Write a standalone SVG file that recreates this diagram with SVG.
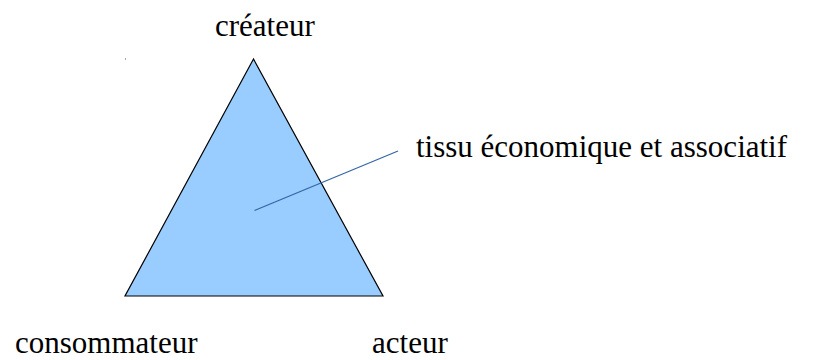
<svg xmlns="http://www.w3.org/2000/svg" width="815" height="360" viewBox="0 0 815 360">
<style>
text { font-family: "Liberation Serif", "Times New Roman", serif; font-size: 31px; fill: #000; }
.tri { fill: #99ccff; stroke: #000; stroke-width: 1.2; stroke-linejoin: miter; }
.conn { stroke: #3465a4; stroke-width: 1.2; fill: none; }
</style>
<rect width="815" height="360" fill="#fff"/>
<g id="triangle">
<polygon class="tri" points="253.5,59 125,296 383,296"/>
</g>
<g id="connectors">
<line class="conn" x1="254.5" y1="210.5" x2="398" y2="151"/>
</g>
<rect x="125" y="58.5" width="1" height="1" fill="#555"/>
<g id="createur"><text x="215" y="36">créateur</text></g>
<g id="tissu"><text x="416" y="157">tissu économique et associatif</text></g>
<g id="consommateur"><text x="15" y="353">consommateur</text></g>
<g id="acteur"><text x="372" y="353">acteur</text></g>
</svg>
